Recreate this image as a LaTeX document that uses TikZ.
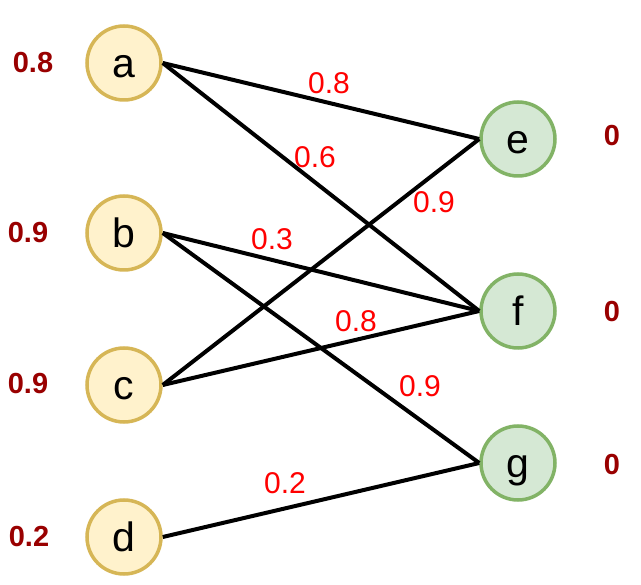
\documentclass[tikz,border=0pt]{standalone}
\usepackage{fontspec}
\setmainfont{Liberation Sans}
\definecolor{inyellow}{HTML}{FFF2CC}
\definecolor{inborder}{HTML}{D6B656}
\definecolor{outgreen}{HTML}{D5E8D4}
\definecolor{outborder}{HTML}{82B366}
\definecolor{valred}{HTML}{990000}
\begin{document}
\begin{tikzpicture}[x=1pt, y=-1pt,
        innode/.style={circle, draw=inborder, fill=inyellow, line width=3.5pt, minimum size=74pt,
            inner sep=0pt, text height=32pt, text depth=2pt, font=\fontsize{41}{43}\selectfont},
        outnode/.style={innode, draw=outborder, fill=outgreen},
        weight/.style={text=red, inner sep=0pt, font=\fontsize{30}{32}\selectfont},
        value/.style={text=valred, inner sep=0pt, font=\bfseries\fontsize{29}{31}\selectfont},
        edge/.style={line width=4pt}]
        % Canvas
        \useasboundingbox (0,0) rectangle (641,585);

        % Input neurons (yellow)
        \node[innode] (a) at (124,63) {a};
        \node[innode] (b) at (124,233) {b};
        \node[innode] (c) at (124,385) {c};
        \node[innode] (d) at (124,537) {d};

        % Output neurons (green)
        \node[outnode] (e) at (518,139) {e};
        \node[outnode] (f) at (518,311) {f};
        \node[outnode] (g) at (518,463) {g};

        % Activation values
        \node[value] (va) at (33,63) {0.8};
        \node[value] (vb) at (28,233) {0.9};
        \node[value] (vc) at (28,384) {0.9};
        \node[value] (vd) at (29,537) {0.2};
        \node[value] (ve) at (612,136) {0};
        \node[value] (vf) at (612,312) {0};
        \node[value] (vg) at (612,465) {0};

        % Connections
        \draw[edge] (a.east) -- (e.west);
        \draw[edge] (a.east) -- (f.west);
        \draw[edge] (b.east) -- (f.west);
        \draw[edge] (b.east) -- (g.west);
        \draw[edge] (c.east) -- (e.west);
        \draw[edge] (c.east) -- (f.west);
        \draw[edge] (d.east) -- (g.west);

        % Weights
        \node[weight] (wae) at (329,83) {0.8};
        \node[weight] (waf) at (315,157) {0.6};
        \node[weight] (wce) at (434,202) {0.9};
        \node[weight] (wbf) at (272,239) {0.3};
        \node[weight] (wcf) at (356,321) {0.8};
        \node[weight] (wbg) at (420,386) {0.9};
        \node[weight] (wdg) at (285,483) {0.2};
    \end{tikzpicture}
\end{document}
